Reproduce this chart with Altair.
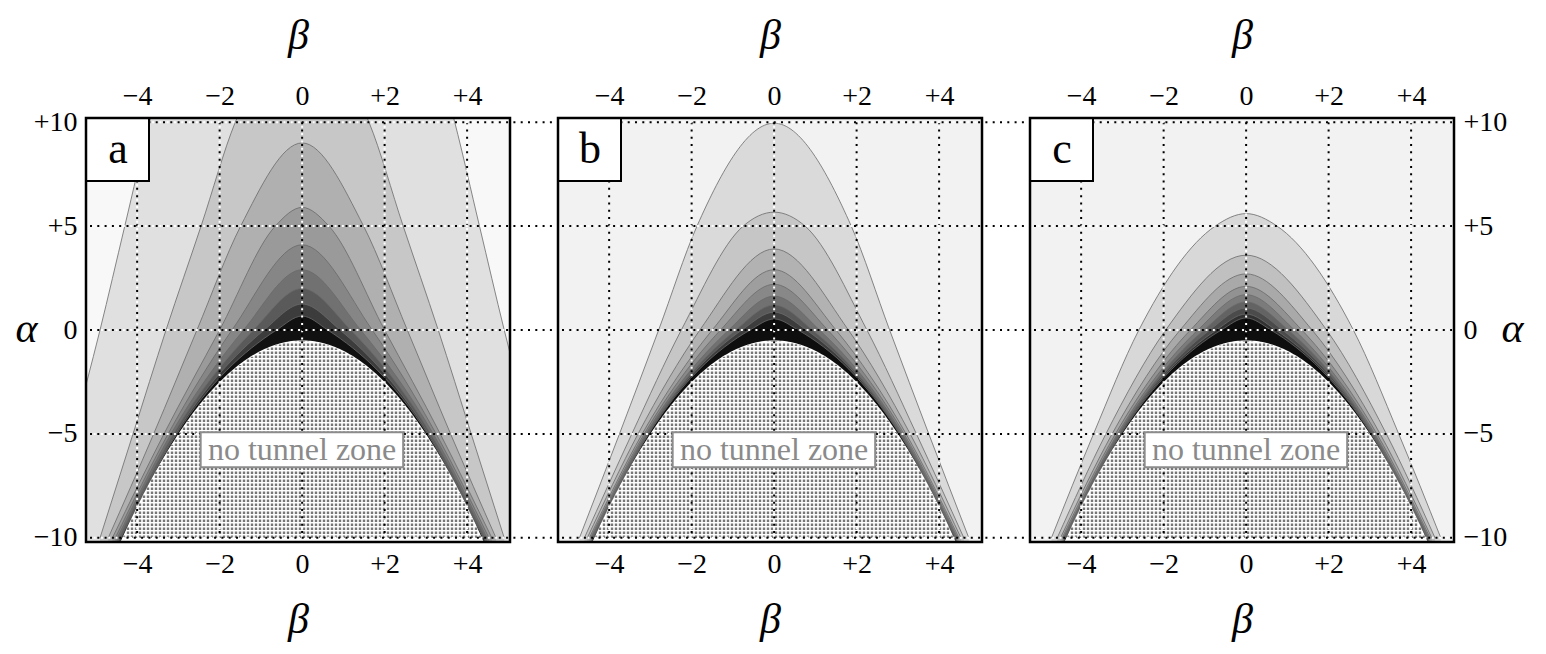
import altair as alt
import pandas as pd
import numpy as np

W, H, GAP = 424, 424, 48
XDOM = [-5.24, 5.04]
YDOM = [-10.2, 10.2]
LEVELS = [10, 5, 0, -5, -10]
TICKS_B = [-4, -2, 0, 2, 4]
TICKS_A = [-10, -5, 0, 5, 10]
FONT = "Liberation Serif"

# ---- panel a: apex alpha (beta=0) and half-widths in beta at alpha = 10, 5, 0, -5, -10
a_apex = [25.0, 14.0, 9.0, 5.9, 4.1, 2.9, 2.0, 1.25, 0.67]
a_w10 = [3.7, 1.62, None, None, None, None, None, None, None]
a_w5 = [4.3, 2.45, 1.49, 0.65, None, None, None, None, None]
a_w0 = [4.9, 3.3, 2.55, 2.0, 1.7, 1.42, 1.18, 0.92, 0.62]
a_wm5 = [5.55, 4.1, 3.6, 3.35, 3.25, 3.18, 3.12, 3.07, 3.04]
a_wm10 = [6.2, 4.9, 4.7, 4.6, 4.53, 4.48, 4.44, 4.41, 4.39]
a_fill = ["#e0e0e0", "#c7c7c7", "#b0b0b0", "#9a9a9a", "#868686",
          "#717171", "#5a5a5a", "#3c3c3c", "#111111"]
a_bg = "#f8f8f8"

# ---- panel b
b_apex = [9.95, 5.67, 3.9, 2.9, 2.2, 1.63, 1.2, 0.86, 0.53]
b_w10 = [None] * 9
b_w5 = [1.87, 0.75, None, None, None, None, None, None, None]
b_w0 = [2.8, 2.25, 1.8, 1.5, 1.3, 1.1, 0.93, 0.78, 0.58]
b_wm5 = [3.75, 3.45, 3.3, 3.2, 3.15, 3.11, 3.08, 3.06, 3.04]
b_wm10 = [4.72, 4.6, 4.53, 4.48, 4.45, 4.43, 4.41, 4.4, 4.38]
b_fill = ["#dadada", "#c6c6c6", "#b2b2b2", "#9e9e9e", "#888888",
          "#717171", "#595959", "#3c3c3c", "#0e0e0e"]
b_bg = "#f2f2f2"

# ---- panel c
c_apex = [5.6, 3.6, 2.7, 2.1, 1.7, 1.35, 1.06, 0.77, 0.58]
c_w10 = [None] * 9
c_w5 = [0.75, None, None, None, None, None, None, None, None]
c_w0 = [2.6, 1.95, 1.6, 1.35, 1.17, 1.02, 0.88, 0.72, 0.6]
c_wm5 = [3.7, 3.4, 3.25, 3.17, 3.12, 3.09, 3.07, 3.05, 3.03]
c_wm10 = [4.72, 4.58, 4.5, 4.46, 4.43, 4.42, 4.4, 4.39, 4.38]
c_fill = ["#d8d8d8", "#c0c0c0", "#a9a9a9", "#929292", "#7b7b7b",
          "#636363", "#4b4b4b", "#313131", "#0e0e0e"]
c_bg = "#f2f2f2"

# no-tunnel boundary: apex alpha and half-width at alpha = -10
bound_apex = -0.5
bound_w = 4.36

xs = alt.Scale(domain=XDOM, nice=False, zero=False)
ys = alt.Scale(domain=YDOM, nice=False, zero=False)

LBL = ("datum.value > 0 ? '+' + datum.value : "
       "(datum.value < 0 ? '\u2212' + abs(datum.value) : '0')")


def xaxis(orient):
    return alt.Axis(orient=orient, values=TICKS_B, labelExpr=LBL, title="\u03b2",
                    ticks=False, domain=False, grid=False, labelPadding=8,
                    titlePadding=25 if orient == "top" else 21, labelFlush=False)


def yaxis(orient):
    return alt.Axis(orient=orient, values=TICKS_A, labelExpr=LBL, title="\u03b1",
                    ticks=False, domain=False, grid=False, labelPadding=9,
                    titleAngle=0, titleAlign="center", titleBaseline="middle",
                    titleX=-60 if orient == "left" else 58, titleY=H / 2 - 2,
                    labelFlush=False)


def contour_df(apex, w10, w5, w0, wm5, wm10, fills):
    rows = []
    for k in range(len(apex)):
        pts = [(0.0, apex[k])]
        for lvl, arr in zip(LEVELS, [w10, w5, w0, wm5, wm10]):
            w = arr[k]
            if w is not None:
                pts += [(-w, lvl), (w, lvl)]
        for b, a in pts:
            rows.append(dict(k=f"{k:02d}", beta=b, alpha=a, col=fills[k]))
    return pd.DataFrame(rows)


def boundary(beta):
    return bound_apex - (bound_apex + 10) * (beta / bound_w) ** 2


def panel(name, data, bg, yorient):
    df = contour_df(*data)
    one = alt.Data(values=[{}])
    yax = yaxis(yorient) if yorient else None

    bgl = alt.Chart(one).mark_rect(fill=bg).encode(
        x=alt.value(0), x2=alt.value(W), y=alt.value(0), y2=alt.value(H))

    areas = alt.Chart(df).mark_area(interpolate="monotone", clip=True).encode(
        x=alt.X("beta:Q", scale=xs, axis=xaxis("bottom")),
        y=alt.Y("alpha:Q", scale=ys, axis=yax),
        y2=alt.Y2Datum(-10.4),
        fill=alt.Fill("col:N", scale=None),
        detail="k:N")

    lines = alt.Chart(df).mark_line(interpolate="monotone", clip=True,
                                    stroke="#6a6a6a", strokeWidth=0.8).encode(
        x=alt.X("beta:Q", scale=xs, axis=None),
        y=alt.Y("alpha:Q", scale=ys, axis=None),
        detail="k:N")

    bb = np.linspace(-4.6, 4.6, 185)
    dfb = pd.DataFrame(dict(beta=bb, alpha=boundary(bb)))
    bnd = alt.Chart(dfb).mark_area(fill="white", clip=True).encode(
        x=alt.X("beta:Q", scale=xs, axis=None),
        y=alt.Y("alpha:Q", scale=ys, axis=None),
        y2=alt.Y2Datum(-10.4))

    # dot texture of the no-tunnel zone, one dashed column every 4 px
    px = np.arange(2, W, 4)
    cb = XDOM[0] + px / W * (XDOM[1] - XDOM[0])
    top = boundary(cb)
    lo = YDOM[0] + 4 / H * (YDOM[1] - YDOM[0])
    keep = top > lo + 0.1
    dfd = pd.DataFrame(dict(beta=cb[keep], lo=lo, hi=top[keep] - 0.05))
    dots = alt.Chart(dfd).mark_rule(stroke="#777777", strokeWidth=2.4,
                                    strokeDash=[2.4, 1.6]).encode(
        x=alt.X("beta:Q", scale=xs, axis=None),
        y=alt.Y("lo:Q", scale=ys, axis=None),
        y2="hi:Q")

    dfv = pd.DataFrame(dict(beta=TICKS_B))
    vwhite = alt.Chart(dfv).mark_rule(stroke="white", strokeWidth=2,
                                      strokeDash=[2, 5.3], strokeDashOffset=3.65).encode(
        x=alt.X("beta:Q", scale=xs, axis=None),
        y=alt.YDatum(10, scale=ys, axis=None), y2=alt.Y2Datum(-10))
    vblack = alt.Chart(dfv).mark_rule(stroke="black", strokeWidth=2,
                                      strokeDash=[2, 5.3]).encode(
        x=alt.X("beta:Q", scale=xs, axis=xaxis("top")),
        y=alt.YDatum(10, scale=ys, axis=None), y2=alt.Y2Datum(-10))

    x_end = W + GAP if yorient != "right" else W - 2
    dfh = pd.DataFrame(dict(alpha=TICKS_A))
    hwhite = alt.Chart(dfh).mark_rule(stroke="white", strokeWidth=2,
                                      strokeDash=[2, 5.3], strokeDashOffset=3.65).encode(
        y=alt.Y("alpha:Q", scale=ys, axis=None),
        x=alt.value(4), x2=alt.value(W - 2))
    hblack = alt.Chart(dfh).mark_rule(stroke="black", strokeWidth=2,
                                      strokeDash=[2, 5.3]).encode(
        y=alt.Y("alpha:Q", scale=ys, axis=None),
        x=alt.value(4), x2=alt.value(x_end))

    nt_rect = alt.Chart(one).mark_rect(fill="white", stroke="#8c8c8c",
                                       strokeWidth=2).encode(
        x=alt.XDatum(-2.46, scale=xs, axis=None), x2=alt.X2Datum(2.45),
        y=alt.YDatum(-4.92, scale=ys, axis=None), y2=alt.Y2Datum(-6.6))
    nt_text = alt.Chart(one).mark_text(text="no tunnel zone", font=FONT, fontSize=32,
                                       color="#8a8a8a", baseline="middle",
                                       align="center").encode(
        x=alt.XDatum(0, scale=xs, axis=None),
        y=alt.YDatum(-5.78, scale=ys, axis=None))

    lab_rect = alt.Chart(one).mark_rect(fill="white", stroke="black",
                                        strokeWidth=2).encode(
        x=alt.value(0), x2=alt.value(63), y=alt.value(0), y2=alt.value(63))
    lab_text = alt.Chart(one).mark_text(text=name, font=FONT, fontSize=44,
                                        color="black", baseline="alphabetic",
                                        align="center").encode(
        x=alt.value(32), y=alt.value(45))

    frame = alt.Chart(one).mark_rect(fill=None, fillOpacity=0, stroke="black",
                                     strokeWidth=2.5).encode(
        x=alt.value(0), x2=alt.value(W), y=alt.value(0), y2=alt.value(H))

    return alt.layer(bgl, areas, lines, bnd, dots, vwhite, vblack, hwhite, hblack,
                     nt_rect, nt_text, lab_rect, lab_text, frame).resolve_axis(
        x="independent", y="independent").properties(width=W, height=H)


pa = panel("a", (a_apex, a_w10, a_w5, a_w0, a_wm5, a_wm10, a_fill), a_bg, "left")
pb = panel("b", (b_apex, b_w10, b_w5, b_w0, b_wm5, b_wm10, b_fill), b_bg, None)
pc = panel("c", (c_apex, c_w10, c_w5, c_w0, c_wm5, c_wm10, c_fill), c_bg, "right")

chart = alt.hconcat(pa, pb, pc, spacing=GAP, bounds="flush").configure_view(
    stroke=None
).configure_axis(
    labelFont=FONT, labelFontSize=28, labelColor="black",
    titleFont=FONT, titleFontSize=42, titleFontStyle="italic",
    titleFontWeight="normal", titleColor="black"
).properties(padding={"left": 6, "top": 6, "right": 5, "bottom": 5},
             background="white")

chart.save("out.html", embed_options={"renderer": "svg", "actions": False})
